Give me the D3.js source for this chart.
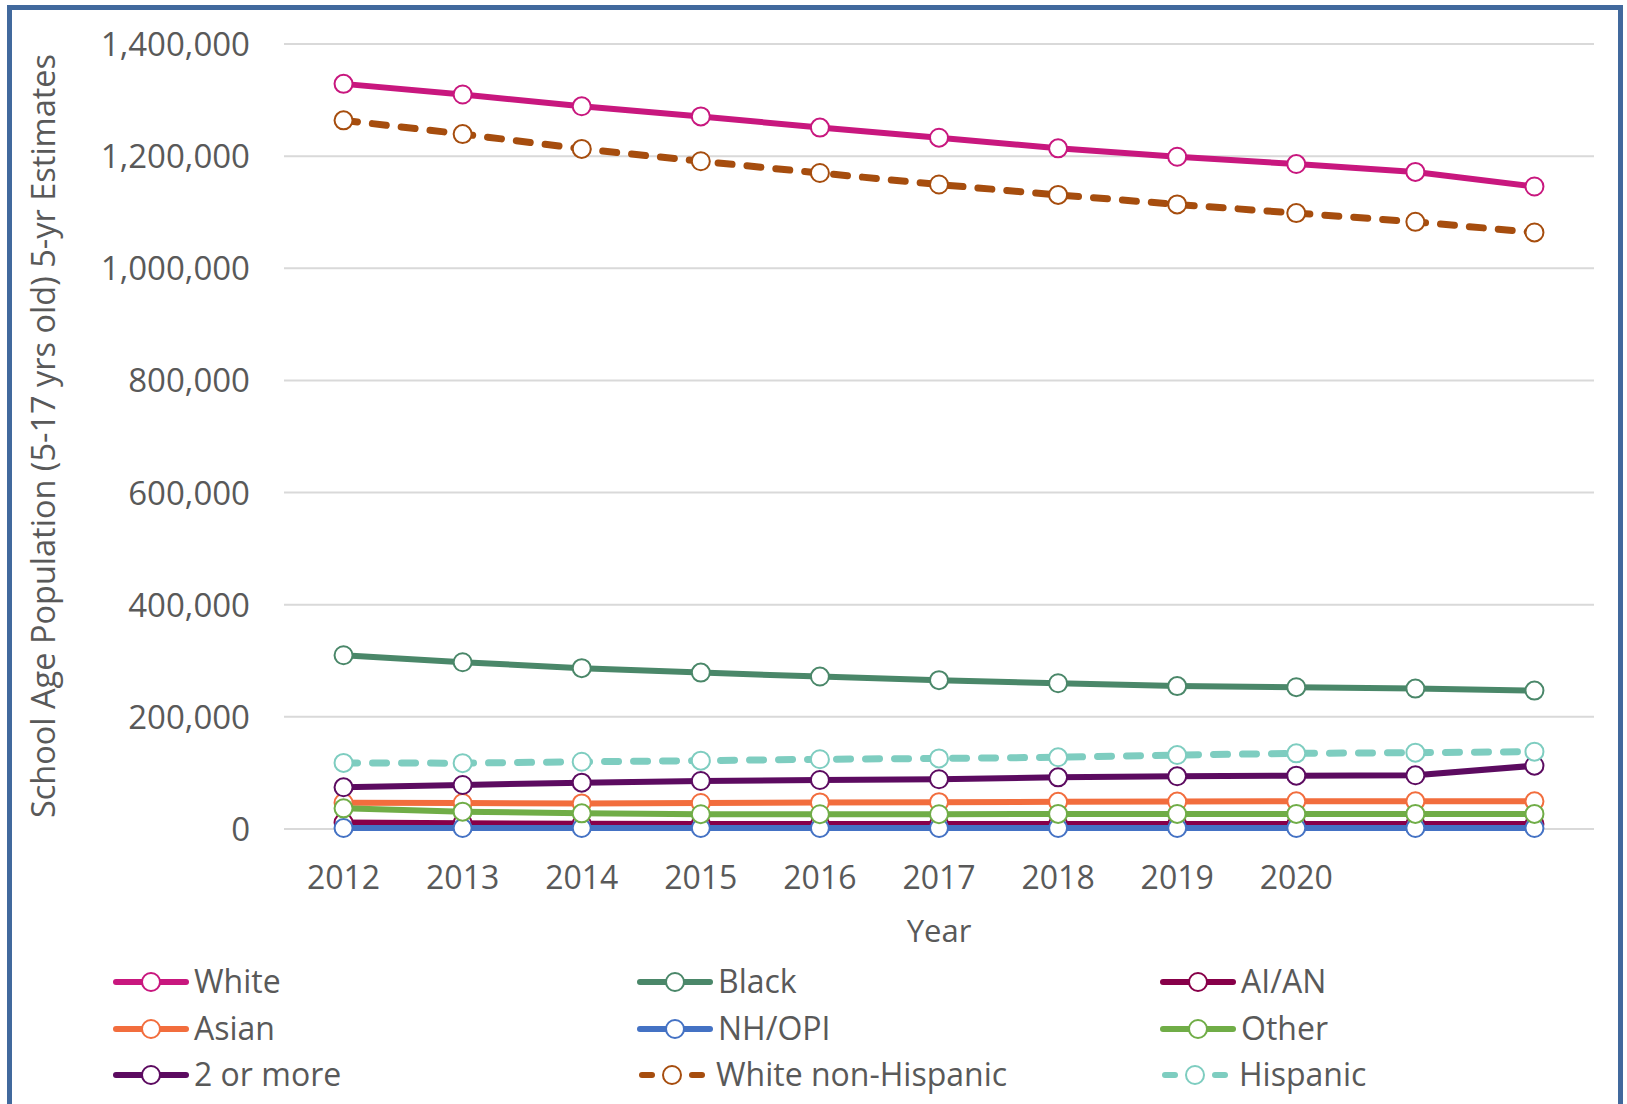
<!DOCTYPE html>
<html>
<head>
<meta charset="utf-8">
<script src="https://cdn.jsdelivr.net/npm/d3@7"></script>
<style>
  body { margin: 0; background: #fff; }
  text { font-family: "Open Sans", "Liberation Sans", sans-serif; fill: #595959; }
  .grid line { stroke: #d9d9d9; stroke-width: 2; }
  .grid path { display: none; }
</style>
</head>
<body>
<div id="wrapper"></div>
<script>
const years = [2012, 2013, 2014, 2015, 2016, 2017, 2018, 2019, 2020, 2021, 2022]
const yearLabels = ["2012", "2013", "2014", "2015", "2016", "2017", "2018", "2019", "2020", "", ""]
const yTicks = [0, 200000, 400000, 600000, 800000, 1000000, 1200000, 1400000]

const white = [1328000, 1309000, 1288000, 1270000, 1250000, 1232000, 1213000, 1198000, 1185000, 1171000, 1145000]
const black = [309000, 296500, 286000, 278000, 271000, 264500, 259000, 254000, 252000, 249500, 246000]
const aian = [10500, 9500, 8500, 8200, 8000, 8000, 8000, 8000, 8000, 8000, 8000]
const asian = [46000, 45500, 44800, 45500, 46500, 47000, 47500, 48000, 48500, 48500, 48500]
const nhopi = [800, 800, 800, 800, 800, 800, 800, 800, 800, 800, 800]
const other = [36000, 30000, 27000, 25500, 25500, 25500, 26000, 26000, 26000, 26000, 26000]
const twoOrMore = [73500, 77600, 81700, 84700, 86500, 87800, 91300, 93100, 94200, 94900, 112000]
const whiteNonHispanic = [1263000, 1238500, 1212000, 1190000, 1169000, 1148500, 1130000, 1113000, 1097500, 1082000, 1063000]
const hispanic = [117000, 116500, 119000, 121000, 123500, 125000, 127000, 131000, 134000, 135300, 137000]

const seriesNames = ["White", "Black", "AI/AN", "Asian", "NH/OPI", "Other", "2 or more", "White non-Hispanic", "Hispanic"]
const seriesValues = [white, black, aian, asian, nhopi, other, twoOrMore, whiteNonHispanic, hispanic]
const seriesColors = ["#c8177e", "#4a8769", "#870049", "#f26d3d", "#4472c4", "#70ad47", "#5c0b60", "#a64d0e", "#7ecdc0"]
const seriesDashed = [false, false, false, false, false, false, false, true, true]

function drawLineChart() {
    const dimensions = {
        width: 1627,
        height: 1104,
        margin: { top: 43.5, right: 33, bottom: 275.5, left: 284 },
    }
    dimensions.boundedWidth = dimensions.width - dimensions.margin.left - dimensions.margin.right
    dimensions.boundedHeight = dimensions.height - dimensions.margin.top - dimensions.margin.bottom

    const wrapper = d3.select("#wrapper")
        .append("svg")
        .attr("width", dimensions.width)
        .attr("height", dimensions.height)

    // outer frame
    wrapper.append("rect")
        .attr("x", 9.5).attr("y", 7.5)
        .attr("width", 1611).attr("height", 1102)
        .attr("fill", "#fff")
        .attr("stroke", "#41699d")
        .attr("stroke-width", 5)

    const bounds = wrapper.append("g")
        .attr("transform", `translate(${dimensions.margin.left},${dimensions.margin.top})`)

    const xScale = d3.scaleBand()
        .domain(years)
        .range([0, dimensions.boundedWidth])
        .padding(0)
    const xCenter = d => xScale(d) + xScale.bandwidth() / 2

    const yScale = d3.scaleLinear()
        .domain([0, 1400000])
        .range([dimensions.boundedHeight, 0])

    bounds.append("g")
        .attr("class", "grid")
        .call(d3.axisLeft(yScale)
            .tickValues(yTicks)
            .tickSize(-dimensions.boundedWidth)
            .tickFormat(""))

    // y tick labels
    const yAxis = bounds.append("g")
        .attr("transform", "translate(0,1.5)")
        .call(d3.axisLeft(yScale).tickValues(yTicks).tickSize(0).tickPadding(34).tickFormat(d3.format(",")))
    yAxis.select(".domain").remove()
    yAxis.selectAll("text").style("font-size", "33px").attr("fill", "#595959")

    // x tick labels
    const xAxis = bounds.append("g")
        .attr("transform", `translate(0,${dimensions.boundedHeight})`)
        .call(d3.axisBottom(xScale).tickSize(0).tickPadding(38).tickFormat((d, i) => yearLabels[i]))
    xAxis.select(".domain").remove()
    xAxis.selectAll("text").style("font-size", "32px").attr("fill", "#595959")

    bounds.append("text")
        .attr("x", 655)
        .attr("y", dimensions.boundedHeight + 113)
        .attr("text-anchor", "middle")
        .style("font-size", "31px")
        .text("Year")

    wrapper.append("text")
        .attr("transform", `translate(55,${dimensions.margin.top + dimensions.boundedHeight / 2}) rotate(-90)`)
        .attr("text-anchor", "middle")
        .style("font-size", "32.5px")
        .text("School Age Population (5-17 yrs old) 5-yr Estimates")

    const lineGenerator = d3.line()
        .x((d, i) => xCenter(years[i]))
        .y(d => yScale(d))

    seriesValues.forEach((values, s) => {
        const g = bounds.append("g")
        g.append("path")
            .attr("d", lineGenerator(values))
            .attr("fill", "none")
            .attr("stroke", seriesColors[s])
            .attr("stroke-width", seriesDashed[s] ? 7 : 6)
            .attr("stroke-linecap", seriesDashed[s] ? "round" : "butt")
            .attr("stroke-linejoin", "round")
            .attr("stroke-dasharray", seriesDashed[s] ? "14,15" : null)
        g.selectAll("circle")
            .data(values)
            .join("circle")
            .attr("cx", (d, i) => xCenter(years[i]))
            .attr("cy", d => yScale(d))
            .attr("r", 9)
            .attr("fill", "#fff")
            .attr("stroke", seriesColors[s])
            .attr("stroke-width", 2)
    })

    // legend
    const legendCols = [116, 640, 1163]
    const legendRows = [982, 1029, 1075]
    seriesNames.forEach((name, s) => {
        const lx = legendCols[s % 3]
        const ly = legendRows[Math.floor(s / 3)]
        const item = wrapper.append("g").attr("transform", `translate(${lx},${ly})`)
        if (seriesDashed[s]) {
            item.append("line").attr("x1", 2).attr("x2", 12)
            item.append("line").attr("x1", 52).attr("x2", 62)
        } else {
            item.append("line").attr("x1", 0).attr("x2", 70)
        }
        item.selectAll("line")
            .attr("y1", 0).attr("y2", 0)
            .attr("stroke", seriesColors[s])
            .attr("stroke-width", 6)
            .attr("stroke-linecap", "round")
        item.append("circle")
            .attr("cx", seriesDashed[s] ? 32 : 35)
            .attr("r", 9)
            .attr("fill", "#fff")
            .attr("stroke", seriesColors[s])
            .attr("stroke-width", 2)
        item.append("text")
            .attr("x", seriesDashed[s] ? 76 : 78)
            .attr("dy", "0.35em")
            .style("font-size", "32px")
            .text(name)
    })
}

drawLineChart()
</script>
</body>
</html>
